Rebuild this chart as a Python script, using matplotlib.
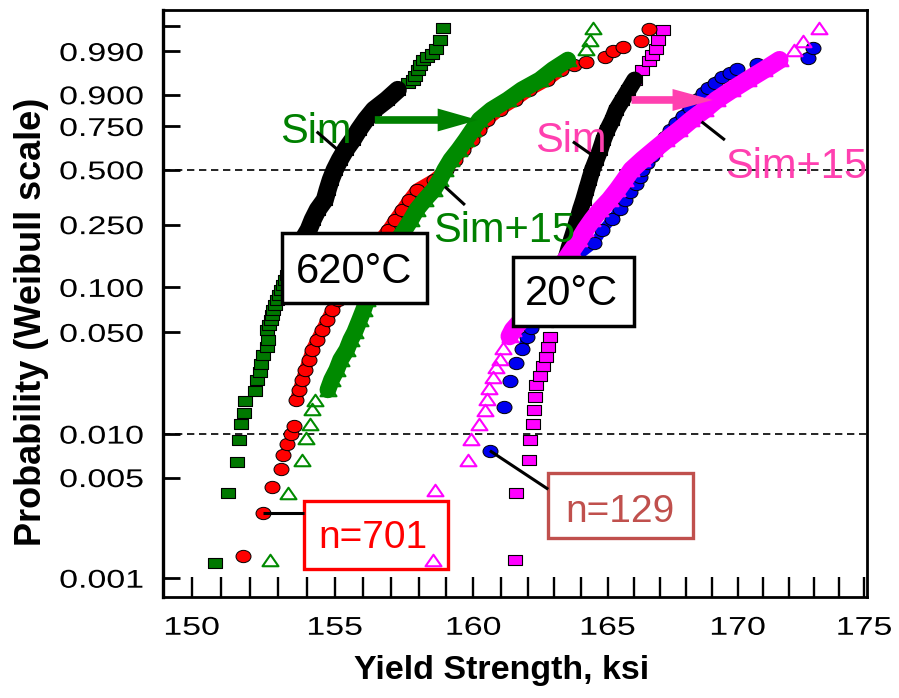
import numpy as np
import matplotlib
matplotlib.use('Agg')
import matplotlib.pyplot as plt
from matplotlib import patheffects
from matplotlib.path import Path
from matplotlib.patches import Rectangle, FancyArrowPatch
from matplotlib.transforms import Affine2D
from matplotlib.ticker import NullLocator

# 620C simulation (green squares)
sim620_ksi = [150.79, 151.23, 151.56, 151.62, 151.71, 151.80, 151.85, 152.18, 152.24, 152.35,
              152.41, 152.47, 152.59, 152.63, 152.61, 152.68, 152.73, 152.78, 152.82, 152.89,
              152.95, 153.02, 153.09, 153.16, 153.23, 153.30, 153.37, 153.44, 153.51, 153.60,
              153.69, 153.78, 153.86, 154.07, 154.21, 154.39, 154.64, 154.74, 154.85, 154.99,
              155.17, 155.38, 155.63, 155.85, 156.10, 156.39, 156.85, 157.25, 157.62, 157.79,
              157.88, 157.97, 158.06, 158.15, 158.30, 158.47, 158.65, 158.77, 158.88]
sim620_prob = [0.00128, 0.0039, 0.0064, 0.0091, 0.0118, 0.0141, 0.0168, 0.0199, 0.0237, 0.0270,
               0.0305, 0.0350, 0.0400, 0.0444, 0.0519, 0.0562, 0.0607, 0.0656, 0.0709, 0.0765,
               0.0826, 0.0892, 0.0963, 0.1039, 0.112, 0.1208, 0.130, 0.1402, 0.151, 0.1625,
               0.175, 0.188, 0.202, 0.233, 0.267, 0.306, 0.348, 0.395, 0.445, 0.499,
               0.556, 0.615, 0.673, 0.731, 0.786, 0.836, 0.880, 0.917, 0.938, 0.946,
               0.955, 0.968, 0.975, 0.982, 0.985, 0.988, 0.9915, 0.9961, 0.9988]

# 620C simulation + 15 (green open triangles)
sim620p15_ksi = [152.72, 153.35, 153.85, 153.97, 154.11, 154.20, 154.28, 154.75, 154.88, 155.06,
                 155.20, 155.42, 155.56, 155.70, 155.88, 156.02, 156.14, 156.30, 156.46, 156.60,
                 156.78, 156.96, 157.25, 157.50, 157.72, 157.93, 158.22, 158.55, 158.77, 158.95,
                 159.17, 159.46, 159.72, 159.97, 160.22, 160.66, 161.26, 161.78, 162.45, 162.94,
                 163.50, 164.20, 164.33, 164.44]
sim620p15_prob = [0.00134, 0.0039, 0.0066, 0.0094, 0.0118, 0.0148, 0.0172, 0.0202, 0.0237, 0.0277,
                  0.0325, 0.0380, 0.0444, 0.0500, 0.0607, 0.0709, 0.0826, 0.0963, 0.112, 0.130,
                  0.151, 0.175, 0.202, 0.233, 0.267, 0.306, 0.348, 0.395, 0.445, 0.499,
                  0.556, 0.615, 0.673, 0.731, 0.786, 0.836, 0.880, 0.917, 0.946, 0.968,
                  0.982, 0.9915, 0.9961, 0.9988]

# 620C test data, n=701 (red circles)
exp620_ksi = [151.78, 152.46, 152.79, 153.10, 153.16, 153.30, 153.45, 153.55, 153.63, 153.73,
              153.84, 153.95, 154.07, 154.18, 154.36, 154.54, 154.72, 154.90, 155.10, 155.35,
              155.60, 155.85, 156.10, 156.35, 156.60, 156.90, 157.14, 157.40, 157.65, 157.93,
              158.55, 158.99, 159.31, 159.61, 159.93, 160.22, 160.51, 160.96, 161.55, 162.07,
              162.74, 163.26, 163.75, 164.20, 164.90, 165.20, 165.60, 166.28, 166.59]
exp620_prob = [0.00142, 0.00285, 0.00427, 0.0057, 0.00712, 0.00855, 0.00997, 0.0114, 0.0172, 0.0202,
               0.0237, 0.0277, 0.0325, 0.0380, 0.0444, 0.0519, 0.0607, 0.0709, 0.0826, 0.0963,
               0.112, 0.130, 0.151, 0.175, 0.202, 0.233, 0.267, 0.306, 0.348, 0.395,
               0.445, 0.499, 0.556, 0.615, 0.673, 0.731, 0.786, 0.836, 0.880, 0.917,
               0.946, 0.968, 0.976, 0.979, 0.985, 0.990, 0.993, 0.9955, 0.9986]

# 20C simulation (magenta squares)
sim20_ksi = [161.52, 161.58, 162.07, 162.10, 162.20, 162.22, 162.26, 162.33, 162.45, 162.57,
             162.70, 162.76, 162.82, 162.93, 163.00, 163.08, 163.15, 163.22, 163.30, 163.41,
             163.52, 163.63, 163.75, 163.86, 163.97, 164.09, 164.20, 164.31, 164.42, 164.57,
             164.72, 164.84, 164.99, 165.18, 165.33, 165.56, 165.79, 166.02, 166.32, 166.59,
             166.70, 166.85, 166.90, 167.10]
sim20_prob = [0.00134, 0.0039, 0.0066, 0.0091, 0.0117, 0.0147, 0.0181, 0.0218, 0.0253, 0.0293,
              0.0340, 0.0400, 0.0465, 0.0607, 0.0709, 0.0826, 0.0963, 0.112, 0.130, 0.151,
              0.175, 0.202, 0.233, 0.267, 0.306, 0.348, 0.395, 0.445, 0.499, 0.556,
              0.615, 0.673, 0.731, 0.786, 0.836, 0.880, 0.917, 0.946, 0.968, 0.9805,
              0.9873, 0.9915, 0.9961, 0.9985]

# 20C simulation + 15 (magenta open triangles)
sim20p15_ksi = [158.53, 158.59, 159.80, 159.92, 160.22, 160.41, 160.49, 160.59, 160.71, 160.84,
                160.96, 161.08, 161.33, 161.45, 161.78, 162.07, 162.33, 162.59, 162.85, 163.11,
                163.41, 163.67, 163.93, 164.16, 164.42, 164.72, 165.07, 165.37, 165.64, 165.90,
                166.32, 166.78, 167.24, 167.74, 168.20, 168.71, 169.17, 169.76, 170.38, 171.04,
                171.63, 172.22, 172.55, 173.20]
sim20p15_prob = [0.00134, 0.0041, 0.0066, 0.0093, 0.0118, 0.0147, 0.0176, 0.0208, 0.0247, 0.0288,
                 0.0330, 0.0390, 0.0470, 0.0519, 0.0607, 0.0709, 0.0826, 0.0963, 0.112, 0.130,
                 0.151, 0.175, 0.202, 0.233, 0.267, 0.306, 0.348, 0.395, 0.445, 0.499,
                 0.556, 0.615, 0.673, 0.731, 0.786, 0.836, 0.880, 0.917, 0.946, 0.968,
                 0.982, 0.9912, 0.9955, 0.9988]

# 20C test data, n=129 (blue circles)
exp20_ksi = [160.60, 161.11, 161.33, 161.57, 161.78, 161.96, 162.11, 162.26, 162.63, 163.19,
             163.75, 164.50, 164.80, 165.15, 165.45, 165.64, 165.83, 166.06, 166.21, 166.32,
             166.51, 166.67, 166.82, 166.98, 167.17, 167.36, 167.59, 167.86, 168.13, 168.44,
             168.64, 168.83, 169.10, 169.37, 169.68, 169.95, 170.75, 172.75, 172.95]
exp20_prob = [0.00769, 0.01538, 0.02308, 0.03077, 0.03846, 0.04615, 0.05385, 0.06154, 0.07692, 0.11538,
              0.15385, 0.19231, 0.23077, 0.26923, 0.30769, 0.34615, 0.38462, 0.42308, 0.46154, 0.50000,
              0.53846, 0.57692, 0.61538, 0.65385, 0.69231, 0.73077, 0.76923, 0.80769, 0.84615, 0.88462,
              0.90769, 0.92308, 0.93846, 0.95385, 0.96154, 0.96923, 0.97692, 0.98462, 0.99231]

x_ticks = list(range(150, 176))
x_labels = [str(t) if t % 5 == 0 else '' for t in x_ticks]
y_ticks = [0.001, 0.005, 0.010, 0.050, 0.100, 0.250, 0.500, 0.750, 0.900, 0.990, 0.999]
y_labels = ['0.001', '0.005', '0.010', '0.050', '0.100', '0.250', '0.500', '0.750', '0.900', '0.990', '']


def weibull_fwd(p):
    p = np.clip(np.asarray(p, dtype=float), 1e-12, 1 - 1e-12)
    return np.log(-np.log1p(-p))


def weibull_inv(w):
    return -np.expm1(-np.exp(np.asarray(w, dtype=float)))


class Stretch(patheffects.AbstractPathEffect):
    """Widen glyphs horizontally (the tick labels in the source are stretched)."""
    def __init__(self, sx, anchor='center'):
        super().__init__()
        self.sx = sx
        self.anchor = anchor

    def draw_path(self, renderer, gc, tpath, affine, rgbFace=None):
        ext = tpath.get_extents()
        cx = ext.x1 if self.anchor == 'right' else 0.5 * (ext.x0 + ext.x1)
        t = Affine2D().translate(-cx, 0).scale(self.sx, 1).translate(cx, 0) + affine
        renderer.draw_path(gc, tpath, t, rgbFace)


# marker shapes (source image is a bit wider than tall)
rect_mk = Path([(-0.5, -0.39), (0.5, -0.39), (0.5, 0.39), (-0.5, 0.39), (-0.5, -0.39)],
               [Path.MOVETO, Path.LINETO, Path.LINETO, Path.LINETO, Path.CLOSEPOLY])
circ = Path.unit_circle()
ell_mk = Path(circ.vertices * np.array([0.5, 0.41]), circ.codes)
tri_mk = Path([(-0.5, -0.36), (0.5, -0.36), (0.0, 0.36), (-0.5, -0.36)],
              [Path.MOVETO, Path.LINETO, Path.LINETO, Path.CLOSEPOLY])

GREEN_SQ = '#007800'
GREEN = '#008a00'
GREEN_TXT = '#008000'
MAGENTA = '#ff00ff'
PINK = '#ff40b0'
RED = '#ff0000'
BLUE = '#0000f0'
BOX129 = '#c0504d'
FONT = 'Liberation Sans'

fig = plt.figure(figsize=(8.99, 6.98), dpi=100)
ax = fig.add_axes([0.181, 0.1447, 0.7832, 0.841])
ax.set_xscale('log')
ax.set_yscale('function', functions=(weibull_fwd, weibull_inv))


def band(x, p, lo, hi, color, lw, z):
    x = np.asarray(x)
    p = np.asarray(p)
    m = (p >= lo) & (p <= hi)
    ax.plot(x[m], p[m], color=color, lw=lw, solid_capstyle='round',
            solid_joinstyle='round', zorder=z)


# 620C group
ax.plot(sim620_ksi, sim620_prob, ls='none', marker=rect_mk, ms=10, mfc=GREEN_SQ,
        mec='k', mew=0.8, zorder=2)
band(sim620_ksi, sim620_prob, 0.19, 0.93, 'k', 13, 2.1)
band(exp620_ksi, exp620_prob, 0.015, 0.97, RED, 9, 2.9)
ax.plot(exp620_ksi, exp620_prob, ls='none', marker=ell_mk, ms=10.8, mfc=RED,
        mec='k', mew=0.7, zorder=3)
band(sim620p15_ksi, sim620p15_prob, 0.02, 0.985, GREEN, 12, 3.9)
ax.plot(sim620p15_ksi, sim620p15_prob, ls='none', marker=tri_mk, ms=11.5, mfc='none',
        mec=GREEN, mew=1.5, zorder=4)

# 20C group
ax.plot(sim20_ksi, sim20_prob, ls='none', marker=rect_mk, ms=10, mfc=MAGENTA,
        mec='k', mew=0.8, zorder=2)
band(sim20_ksi, sim20_prob, 0.055, 0.96, 'k', 12, 2.1)
band(exp20_ksi, exp20_prob, 0.035, 0.975, BLUE, 7, 2.9)
ax.plot(exp20_ksi, exp20_prob, ls='none', marker=ell_mk, ms=10.8, mfc=BLUE,
        mec='k', mew=0.7, zorder=3)
band(sim20p15_ksi, sim20p15_prob, 0.045, 0.99, MAGENTA, 13, 3.9)
ax.plot(sim20p15_ksi, sim20p15_prob, ls='none', marker=tri_mk, ms=11.5, mfc='none',
        mec=MAGENTA, mew=1.5, zorder=4)

# reference lines
for level in (0.5, 0.01):
    ax.axhline(level, color='k', lw=1.2, ls=(0, (4.4, 2.8)), zorder=1.5)

ax.set_xlim(149.0, 175.1)
ax.set_ylim(0.00074, 0.99987)
ax.set_xticks(x_ticks, labels=x_labels)
ax.set_yticks(y_ticks, labels=y_labels)
ax.xaxis.set_minor_locator(NullLocator())
ax.yaxis.set_minor_locator(NullLocator())
ax.tick_params(axis='x', direction='in', length=14.4, width=1.7, pad=13.5,
               labelsize=18.5, top=False)
ax.tick_params(axis='y', direction='in', length=12.2, width=2.0, pad=13.5,
               labelsize=18.5, right=False)
for lbl in ax.get_xticklabels():
    lbl.set_family(FONT)
    lbl.set_path_effects([Stretch(1.32)])
for lbl in ax.get_yticklabels():
    lbl.set_family(FONT)
    lbl.set_path_effects([Stretch(1.32, 'right')])
for side in ('top', 'right', 'bottom'):
    ax.spines[side].set_linewidth(2.0)
ax.spines['left'].set_linewidth(2.4)

fig.text(0.0345, 0.5387, 'Probability (Weibull scale)', rotation=90, ha='center', va='center',
         fontsize=26, fontweight='bold', family=FONT)
fig.text(0.5584, 0.0272, 'Yield Strength, ksi', ha='center', va='baseline',
         fontsize=24.5, fontweight='bold', family=FONT)

# annotations (axes fraction)
T = ax.transAxes


def pointer(x0, y0, x1, y1):
    ax.plot([x0, x1], [y0, y1], color='k', lw=2.2, transform=T, solid_capstyle='butt',
            zorder=6, clip_on=False)


def arrow(x0, x1, y, color, hw):
    ax.add_patch(FancyArrowPatch((x0, y), (x1, y), transform=T, color=color, lw=0,
                                 arrowstyle=f'simple,head_length=2.9,head_width={hw},tail_width=0.55',
                                 mutation_scale=10, shrinkA=0, shrinkB=0, zorder=6))


ax.text(0.1666, 0.7734, 'Sim', color=GREEN_TXT, fontsize=30, family=FONT, transform=T,
        ha='left', va='baseline', zorder=6)
pointer(0.2187, 0.7927, 0.2489, 0.7615)
arrow(0.3013, 0.4477, 0.8126, GREEN_TXT, 1.65)
ax.text(0.3838, 0.6053, 'Sim+15', color=GREEN_TXT, fontsize=30, family=FONT, transform=T,
        ha='left', va='baseline', zorder=6)
pointer(0.4008, 0.6990, 0.4292, 0.6678)

ax.text(0.5286, 0.7586, 'Sim', color=PINK, fontsize=30, family=FONT, transform=T,
        ha='left', va='baseline', zorder=6)
pointer(0.5826, 0.7756, 0.6162, 0.7474)
arrow(0.6659, 0.7813, 0.8467, PINK, 1.58)
ax.text(0.7984, 0.7138, 'Sim+15', color=PINK, fontsize=30, family=FONT, transform=T,
        ha='left', va='baseline', zorder=6)
pointer(0.7653, 0.8097, 0.7984, 0.7785)

ax.add_patch(Rectangle((0.169, 0.5009), 0.2058, 0.1192, transform=T, facecolor='white',
                       edgecolor='k', lw=2.5, zorder=7))
ax.text(0.2719, 0.5344, '620°C', fontsize=30, family=FONT, transform=T,
        ha='center', va='baseline', zorder=8)
ax.add_patch(Rectangle((0.4978, 0.4617), 0.1718, 0.118, transform=T, facecolor='white',
                       edgecolor='k', lw=2.5, zorder=7))
ax.text(0.5807, 0.4974, '20°C', fontsize=30, family=FONT, transform=T,
        ha='center', va='baseline', zorder=8)

ax.add_patch(Rectangle((0.2006, 0.0472), 0.2049, 0.1163, transform=T, facecolor='none',
                       edgecolor=RED, lw=2.4, zorder=6))
ax.text(0.2979, 0.0830, 'n=701', color=RED, fontsize=28, family=FONT, transform=T,
        ha='center', va='baseline', zorder=6)
pointer(0.1428, 0.1436, 0.2006, 0.1436)
ax.add_patch(Rectangle((0.5475, 0.1000), 0.2050, 0.1107, transform=T, facecolor='none',
                       edgecolor=BOX129, lw=2.4, zorder=6))
ax.text(0.6500, 0.1283, 'n=129', color=BOX129, fontsize=28, family=FONT, transform=T,
        ha='center', va='baseline', zorder=6)
pointer(0.4647, 0.2492, 0.5475, 0.1835)

fig.savefig('out.png', dpi=100)
